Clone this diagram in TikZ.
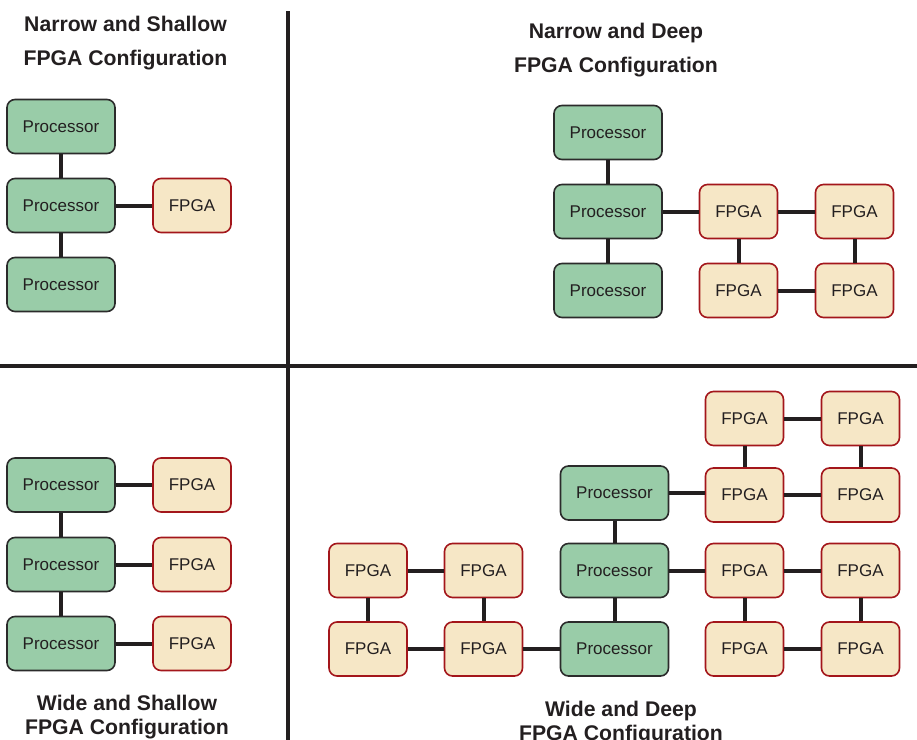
\documentclass[tikz,border=0pt]{standalone}
\usepackage{fontspec}
\setmainfont{Liberation Sans}
\definecolor{procgreen}{HTML}{99CCA8}
\definecolor{procline}{HTML}{2B2B2B}
\definecolor{fpgafill}{HTML}{F6E7C6}
\definecolor{fpgaline}{HTML}{A3161B}
\definecolor{ink}{HTML}{231F20}

\begin{document}
\begin{tikzpicture}[x=0.5pt, y=-0.5pt, line join = round]
\tikzstyle{proc}=[fill=procgreen, draw=procline, rounded corners=4pt, line width=0.8pt, minimum width=54pt, minimum height=27pt, inner sep=0pt, font=\fontsize{8.5}{10}\selectfont, text=ink]
\tikzstyle{fpga}=[proc, fill=fpgafill, draw=fpgaline, minimum width=39pt]
\tikzstyle{link}=[line width=2pt, color=ink]
\tikzstyle{divider}=[line width=1.8pt, color=ink]
\tikzstyle{title}=[font=\bfseries\fontsize{10.6}{17}\selectfont, text=ink, align=center]
\tikzstyle{subtitle}=[title, font=\bfseries\fontsize{10.6}{12}\selectfont]
\useasboundingbox (0,0) rectangle (917,740);

\draw[divider] (288,11) -- (288,740);
\draw[divider] (0,366) -- (917,366);

% narrow and shallow
\node[title] (t1) at (125.5,43) {Narrow and Shallow\\FPGA Configuration};
\node[proc] (p1) at (61,126.5) {Processor};
\node[proc] (p2) at (61,205.5) {Processor};
\node[proc] (p3) at (61,284.5) {Processor};
\node[fpga] (f1) at (192,205.5) {FPGA};
\draw[link] (p1) -- (p2);
\draw[link] (p2) -- (p3);
\draw[link] (p2) -- (f1);

% narrow and deep
\node[title] (t2) at (616,50) {Narrow and Deep\\FPGA Configuration};
\node[proc] (q1) at (608,132.5) {Processor};
\node[proc] (q2) at (608,211.5) {Processor};
\node[proc] (q3) at (608,290.5) {Processor};
\node[fpga] (g1) at (738.5,211.5) {FPGA};
\node[fpga] (g2) at (854.5,211.5) {FPGA};
\node[fpga] (g3) at (738.5,290.5) {FPGA};
\node[fpga] (g4) at (854.5,290.5) {FPGA};
\draw[link] (q1) -- (q2);
\draw[link] (q2) -- (q3);
\draw[link] (q2) -- (g1);
\draw[link] (g1) -- (g2);
\draw[link] (g1) -- (g3);
\draw[link] (g2) -- (g4);
\draw[link] (g3) -- (g4);

% wide and shallow
\node[subtitle] (t3) at (127,717.5) {Wide and Shallow\\FPGA Configuration};
\node[proc] (r1) at (61,485) {Processor};
\node[proc] (r2) at (61,564.5) {Processor};
\node[proc] (r3) at (61,643.5) {Processor};
\node[fpga] (h1) at (192,485) {FPGA};
\node[fpga] (h2) at (192,564.5) {FPGA};
\node[fpga] (h3) at (192,643.5) {FPGA};
\draw[link] (r1) -- (r2);
\draw[link] (r2) -- (r3);
\draw[link] (r1) -- (h1);
\draw[link] (r2) -- (h2);
\draw[link] (r3) -- (h3);

% wide and deep
\node[subtitle] (t4) at (621,723.5) {Wide and Deep\\FPGA Configuration};
\node[proc] (s1) at (614.5,493) {Processor};
\node[proc] (s2) at (614.5,570.5) {Processor};
\node[proc] (s3) at (614.5,649) {Processor};
\node[fpga] (k1) at (368,570.5) {FPGA};
\node[fpga] (k2) at (483.5,570.5) {FPGA};
\node[fpga] (k3) at (368,649) {FPGA};
\node[fpga] (k4) at (483.5,649) {FPGA};
\node[fpga] (m1) at (744.5,418.5) {FPGA};
\node[fpga] (m2) at (860.5,418.5) {FPGA};
\node[fpga] (m3) at (744.5,495) {FPGA};
\node[fpga] (m4) at (860.5,495) {FPGA};
\node[fpga] (n1) at (744.5,570.5) {FPGA};
\node[fpga] (n2) at (860.5,570.5) {FPGA};
\node[fpga] (n3) at (744.5,649) {FPGA};
\node[fpga] (n4) at (860.5,649) {FPGA};
\draw[link] (s1) -- (s2);
\draw[link] (s2) -- (s3);
\draw[link] (s3) -- (k4);
\draw[link] (k1) -- (k2);
\draw[link] (k1) -- (k3);
\draw[link] (k2) -- (k4);
\draw[link] (k3) -- (k4);
\draw[link] (s1.east) -- (s1.east -| m3.west);
\draw[link] (m1) -- (m2);
\draw[link] (m1) -- (m3);
\draw[link] (m2) -- (m4);
\draw[link] (m3) -- (m4);
\draw[link] (s2) -- (n1);
\draw[link] (n1) -- (n2);
\draw[link] (n1) -- (n3);
\draw[link] (n2) -- (n4);
\draw[link] (n3) -- (n4);
\end{tikzpicture}
\end{document}
